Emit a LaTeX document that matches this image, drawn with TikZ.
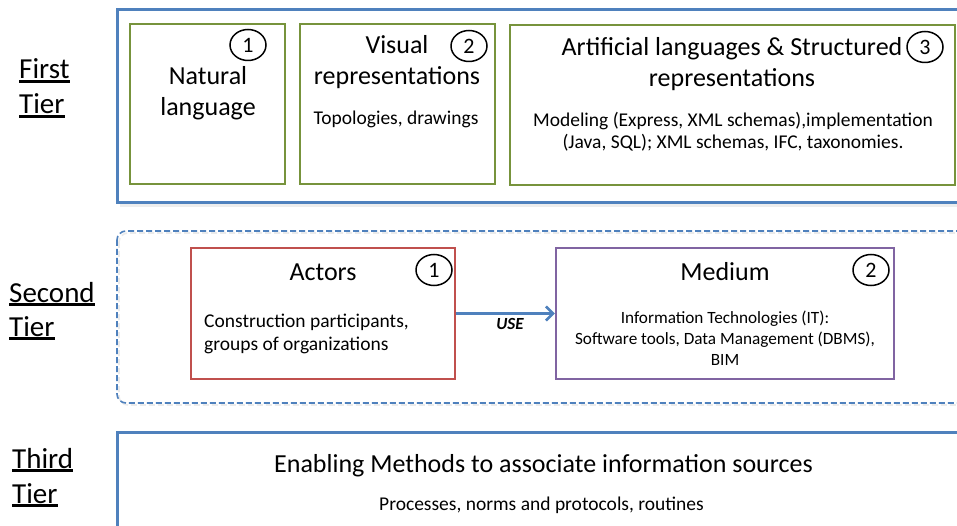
\documentclass[tikz,border=0pt]{standalone}
\usepackage{fontspec}
\setmainfont{Carlito}
\usetikzlibrary{arrows.meta,shapes.geometric}
\definecolor{tblue}{RGB}{79,129,189}
\definecolor{tgreen}{RGB}{119,147,60}
\definecolor{tred}{RGB}{192,80,77}
\definecolor{tpurple}{RGB}{128,100,162}
\tikzset{
  tier/.style={draw=tblue,line width=3pt},
  gbox/.style={draw=tgreen,line width=2pt},
  num/.style={draw=black,line width=1.5pt,ellipse,minimum width=36pt,minimum height=31pt,inner sep=0pt,font=\fontsize{22}{22}\selectfont},
  big/.style={font=\fontsize{26}{31}\selectfont,inner sep=0pt,align=center},
  small/.style={font=\fontsize{19.5}{22}\selectfont,inner sep=0pt,align=center},
  lab/.style={font=\fontsize{29}{30}\selectfont,inner sep=0pt,anchor=base west},
}
\newcommand{\ulthick}[1]{{\setbox0\hbox{#1}\rlap{\rule[-4pt]{\wd0}{3pt}}\box0}}
\begin{document}
\begin{tikzpicture}[x=1pt,y=-1pt]
\useasboundingbox (0,0) rectangle (957,526);
\clip (0,0) rectangle (957,526);
% tier labels
\node[lab] (l1a) at (19,79) {\ulthick{First}};
\node[lab] (l1b) at (19,114) {\ulthick{Tier}};
\node[lab] (l2a) at (9,302) {\ulthick{Second}};
\node[lab] (l2b) at (9,336) {\ulthick{Tier}};
\node[lab] (l3a) at (12,468) {\ulthick{Third}};
\node[lab] (l3b) at (12,503) {\ulthick{Tier}};
% first tier
\fill[black!7] (120,13) rectangle (980,207);
\draw[tier,fill=white] (117,10) rectangle (980,203);
\draw[gbox] (130,24) rectangle (285,184);
\draw[gbox] (300,24) rectangle (495,184);
\draw[gbox] (510,25) rectangle (955,185);
\node[big] (nl) at (208,93) {Natural\\language};
\node[num] (c11) at (248,45) {1};
\node[big] (vr) at (397,62) {Visual\\representations};
\node[num] (c12) at (469,46) {2};
\node[small] (vrs) at (396,119) {Topologies, drawings};
\node[big] (al) at (732,64.5) {Artificial languages \& Structured\\representations};
\node[num] (c13) at (925,47) {3};
\node[small] (als) at (733,131.5) {Modeling (Express, XML schemas),implementation\\(Java, SQL); XML schemas, IFC, taxonomies.};
% second tier
\draw[black!8,line width=1.6pt,dash pattern=on 6pt off 3pt,rounded corners=9pt] (119,233) rectangle (992,405);
\draw[tblue,line width=1.6pt,dash pattern=on 6pt off 3pt,rounded corners=9pt] (117,231) rectangle (990,403);
\node[draw=tred,line width=2.5pt,minimum width=264pt,minimum height=131pt,inner sep=0pt] (act) at (323,313.5) {};
\node[draw=tpurple,line width=2.5pt,minimum width=338pt,minimum height=131pt,inner sep=0pt] (med) at (725,313.5) {};
\node[big] (actt) at (323,272) {Actors};
\node[num] (c21) at (434,270) {1};
\node[small,align=left,anchor=west,font=\fontsize{19.5}{23}\selectfont] (acts) at (204,333.5) {Construction participants,\\groups of organizations};
\node[big] (medt) at (725,272) {Medium};
\node[num] (c22) at (871,270) {2};
\node[small,font=\fontsize{17.2}{21}\selectfont] (meds) at (725,338) {Information Technologies (IT):\\Software tools, Data Management (DBMS),\\BIM};
\draw[tblue,line width=3pt,-{Straight Barb[length=7pt,width=14pt,line width=2.5pt]}] (act.east) -- (med.west);
\node[font=\fontsize{17}{20}\selectfont\bfseries\itshape,inner sep=0pt] (use) at (510,324) {USE};
% third tier
\draw[tier] (117,432) rectangle (980,560);
\node[font=\fontsize{26}{28}\selectfont,inner sep=0pt] (em) at (543.5,466) {Enabling Methods to associate information sources};
\node[font=\fontsize{19.5}{22}\selectfont,inner sep=0pt] (ems) at (541.5,505) {Processes, norms and protocols, routines};
\end{tikzpicture}
\end{document}
